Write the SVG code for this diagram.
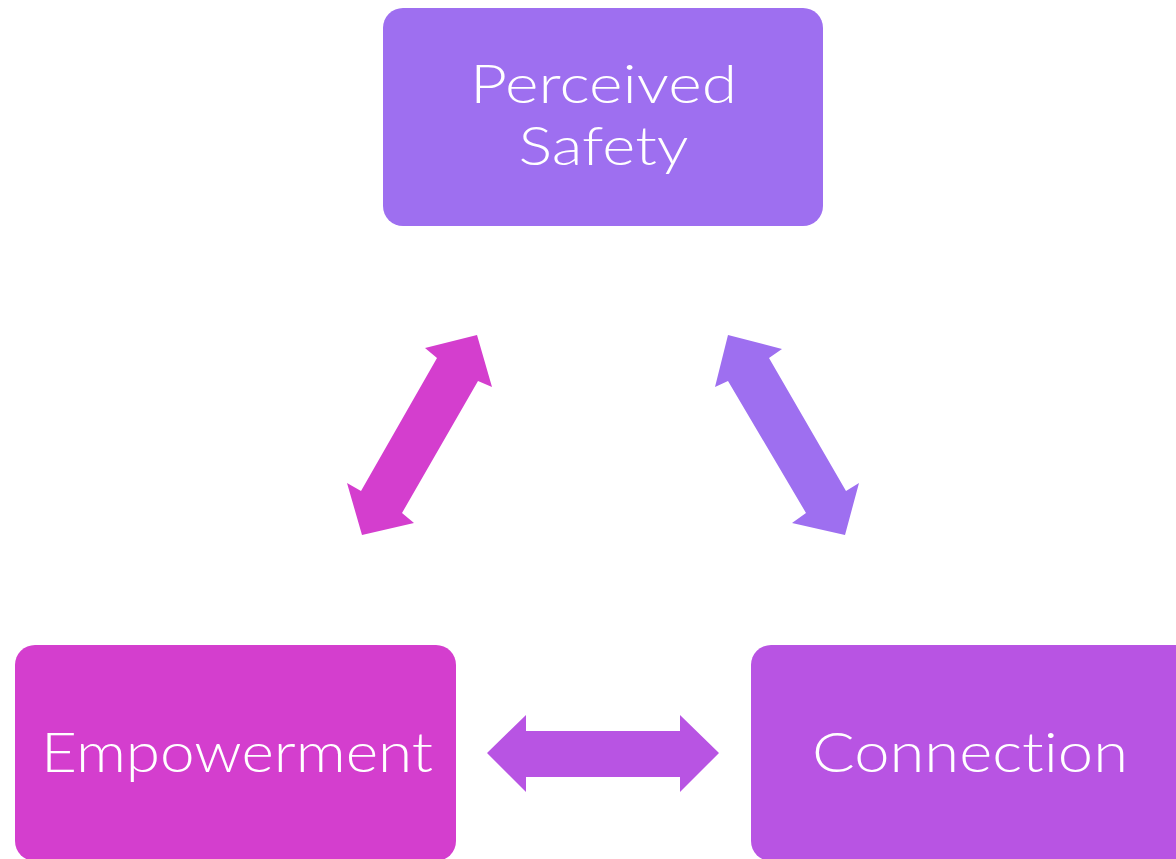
<svg xmlns="http://www.w3.org/2000/svg" width="1176" height="859" viewBox="0 0 1176 859">
<style>
.lbl{font-family:Lato,"Liberation Sans",sans-serif;font-weight:300;fill:#ffffff;text-anchor:middle;font-variant-ligatures:none;font-feature-settings:"liga" 0,"clig" 0}
</style>
<rect width="1176" height="859" fill="#ffffff"/>
<g id="node-safety">
<rect x="383" y="8" width="440" height="218" rx="20" fill="#9E6FF0"/>
<text class="lbl" x="603.5" y="103" font-size="53" textLength="267" lengthAdjust="spacingAndGlyphs">Perceived</text>
<text class="lbl" x="603.5" y="165" font-size="53" textLength="170" lengthAdjust="spacingAndGlyphs">Safety</text>
</g>
<g id="node-empowerment">
<rect x="15" y="645" width="441" height="216" rx="20" fill="#D43ECE"/>
<text class="lbl" x="237" y="772" font-size="56" textLength="392" lengthAdjust="spacingAndGlyphs">Empowerment</text>
</g>
<g id="node-connection">
<rect x="751" y="645" width="445" height="216" rx="20" fill="#B854E3"/>
<text class="lbl" x="970" y="772" font-size="56" textLength="316" lengthAdjust="spacingAndGlyphs">Connection</text>
</g>
<g id="connectors">
<polygon fill="#D43ECE" points="477,335 492,387 478,381 402,513 414,523 362,535 347,483 361,491 437,358 425,348"/>
<polygon fill="#9E6FF0" points="728,335 782,349 769,358 846,491 859,483 845,535 792,523 806,513 728,381 715,387"/>
<polygon fill="#B854E3" points="487,753 526,715 526,731 680,731 680,715 719,753 680,792 680,777 526,777 526,792"/>
</g>
</svg>
